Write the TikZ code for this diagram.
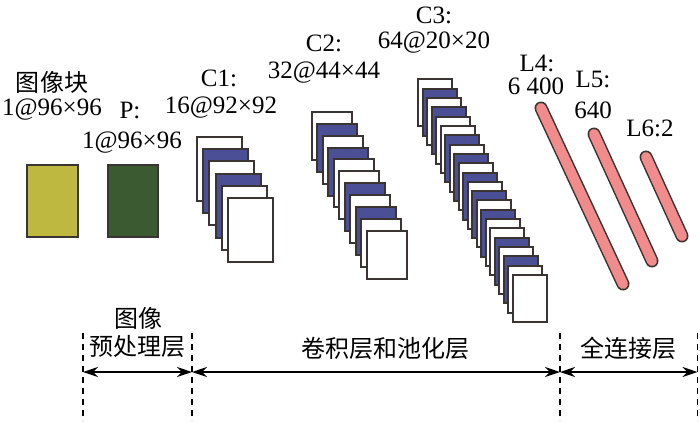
\documentclass[tikz,border=0pt]{standalone}
\usepackage{fontspec}
\setmainfont{Liberation Serif}
\newfontfamily\latinserif{Liberation Serif}
\newfontfamily\cjk{Noto Sans CJK SC}
\usetikzlibrary{arrows.meta}
\definecolor{edgec}{HTML}{3A3432}
\definecolor{mapblue}{HTML}{4A4F96}
\definecolor{ylw}{HTML}{BFB840}
\definecolor{grn}{HTML}{3C5A31}
\definecolor{pinkc}{HTML}{F28C8C}
\begin{document}
\begin{tikzpicture}[x=1pt,y=-1pt,
  lbl/.style={inner sep=0pt, font=\latinserif\fontsize{25}{28}\selectfont},
  clbl/.style={inner sep=0pt, font=\cjk\fontsize{24}{28}\selectfont},
  fmap/.style={draw=edgec, line width=2pt},
  barout/.style={draw=edgec, line width=13pt, line cap=round},
  barin/.style={draw=pinkc, line width=10pt, line cap=round},
  guide/.style={draw=black, line width=1.6pt, dash pattern=on 6pt off 5pt},
  span/.style={draw=black, line width=1.8pt, {Stealth[length=15pt,width=10pt,inset=5pt]}-{Stealth[length=15pt,width=10pt,inset=5pt]}}
]
\useasboundingbox[fill=white] (0,0) rectangle (700,421);

% input block and preprocessed block
\filldraw[fmap, fill=ylw] (27,165) rectangle (78,237);
\filldraw[fmap, fill=grn] (108,165) rectangle (158,237);

% C1 stack
\foreach \c [count=\i from 0] in {white,mapblue,white,mapblue,white,white}
  \filldraw[fmap, fill=\c] ({197+6.2*\i},{137+12.2*\i}) rectangle +(45,64);

% C2 stack
\foreach \c [count=\i from 0] in {white,mapblue,white,mapblue,white,white,mapblue,white,mapblue,white,white}
  \filldraw[fmap, fill=\c] ({312+5.45*\i},{112+11.85*\i}) rectangle +(40,48);

% C3 stack
\foreach \c [count=\i from 0] in {white,mapblue,white,mapblue,white,white,mapblue,white,mapblue,white,mapblue,white,mapblue,white,mapblue,white,white,mapblue,white,mapblue,white,white}
  \filldraw[fmap, fill=\c] ({418.3+4.5*\i},{79.3+9.32*\i}) rectangle +(34,47);

% fully connected bars
\draw[barout] (541,108) -- (623,284);
\draw[barin]  (541,108) -- (623,284);
\draw[barout] (594,134) -- (652,261);
\draw[barin]  (594,134) -- (652,261);
\draw[barout] (646,157) -- (682,236);
\draw[barin]  (646,157) -- (682,236);

% labels
\node[clbl] (t0) at (52,82) {图像块};
\node[lbl] (t1) at (52,110) {1@96×96};
\node[lbl] (t2) at (130,110) {P:};
\node[lbl] (t3) at (132,143) {1@96×96};
\node[lbl] (t4) at (219,78) {C1:};
\node[lbl] (t5) at (221,108) {16@92×92};
\node[lbl] (t6) at (324,43) {C2:};
\node[lbl] (t7) at (324,73) {32@44×44};
\node[lbl] (t8) at (434,15) {C3:};
\node[lbl] (t9) at (434,43) {64@20×20};
\node[lbl] (t10) at (537,63) {L4:};
\node[lbl] (t11) at (536,86) {6 400};
\node[lbl] (t12) at (593,79) {L5:};
\node[lbl] (t13) at (593,110) {640};
\node[lbl] (t14) at (650,128) {L6:2};

% bottom section guides
\coordinate (g0) at (83,372);
\coordinate (g1) at (192,372);
\coordinate (g2) at (560,372);
\coordinate (g3) at (697.5,372);
\foreach \x in {83,192,560,697.5}
  \draw[guide] (\x,333) -- (\x,421);
\draw[span] (g0) -- (g1);
\draw[span] (g1) -- (g2);
\draw[span] (g2) -- (g3);

\node[clbl] (s0) at (138,318) {图像};
\node[clbl] (s1) at (137,347) {预处理层};
\node[clbl] (s2) at (385,348) {卷积层和池化层};
\node[clbl] (s3) at (628,348) {全连接层};
\end{tikzpicture}
\end{document}
